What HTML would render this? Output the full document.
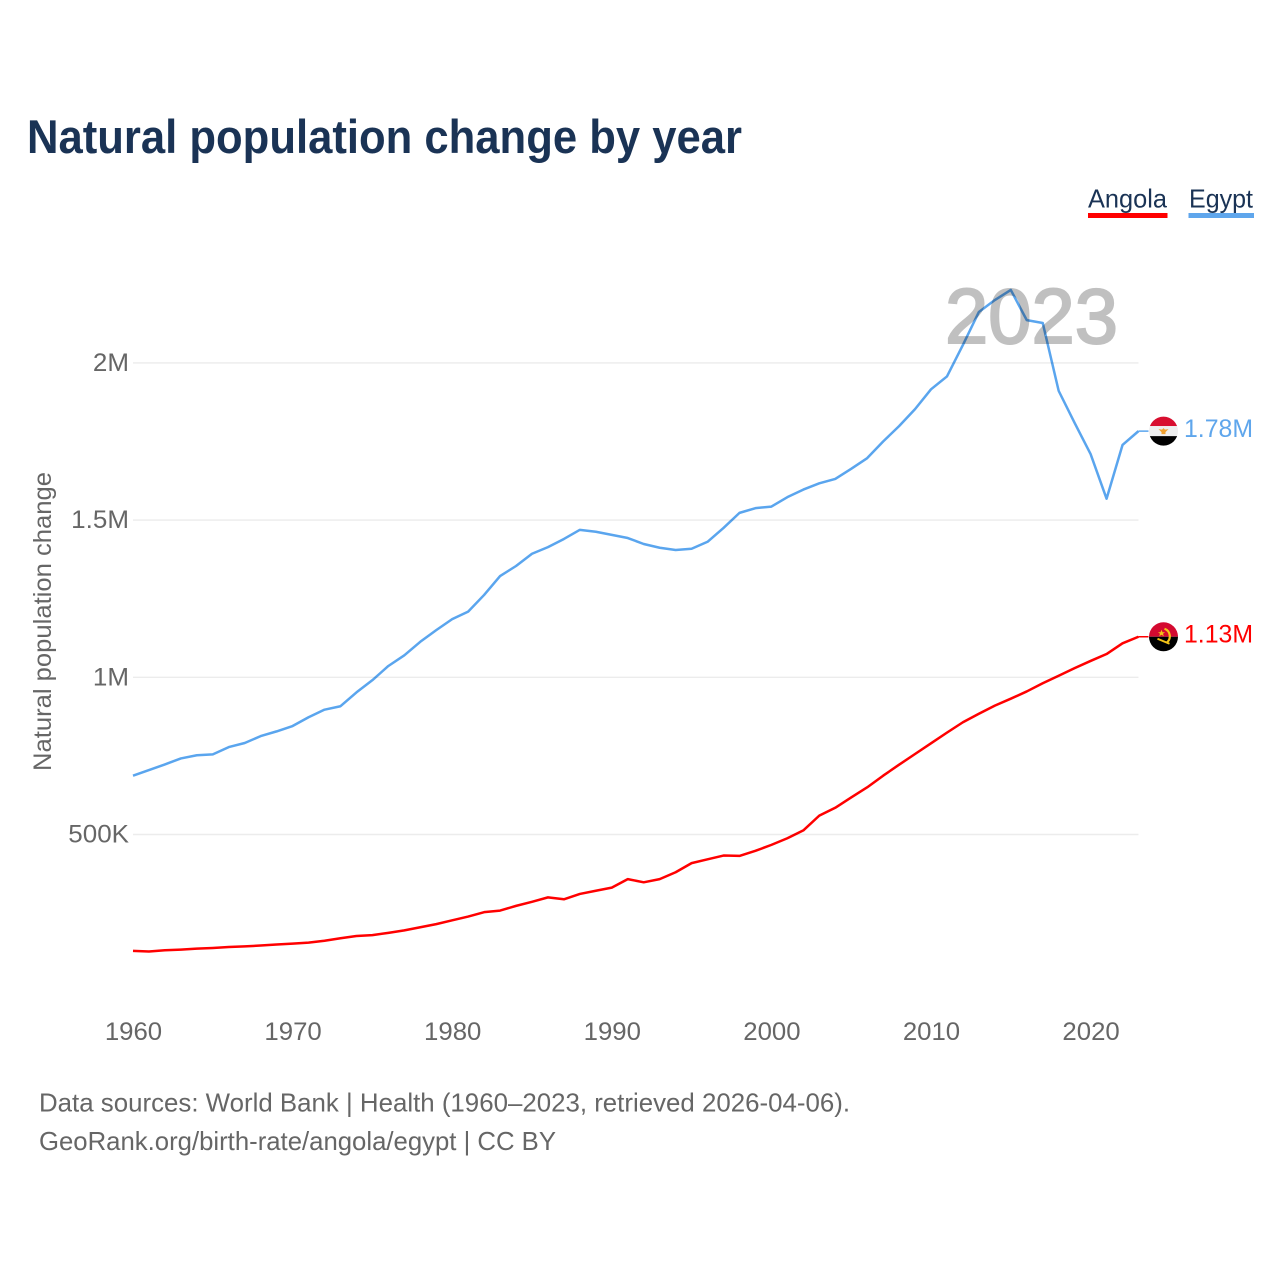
<!DOCTYPE html>
<html lang="en">
<head>
<meta charset="utf-8">
<title>Natural population change by year</title>
<style>
html,body{margin:0;padding:0;background:#fff;}
#chart{display:block;width:1280px;height:1280px;font-family:"Liberation Sans",sans-serif;}
.series{fill:none;stroke-width:2.5;stroke-linejoin:round;mix-blend-mode:multiply;}
</style>
</head>
<body>
<svg id="chart" xmlns="http://www.w3.org/2000/svg" width="1280" height="1280" viewBox="0 0 1280 1280">
  <defs>
    <clipPath id="flag-clip"><circle cx="0" cy="0" r="14.5"></circle></clipPath>
  </defs>
  <rect width="1280" height="1280" fill="#fff"></rect>
  <text x="27" y="153" font-size="47" font-weight="700" fill="#1a3355" textLength="715" lengthAdjust="spacingAndGlyphs">Natural population change by year</text>

  <g>
    <g>
      <text x="1088" y="207.5" font-size="26" fill="#1a3355" textLength="79" lengthAdjust="spacingAndGlyphs">Angola</text>
      <rect x="1088" y="213" width="79.5" height="5" fill="#ff0000"></rect>
    </g>
    <g>
      <text x="1189" y="207.5" font-size="26" fill="#1a3355" textLength="64" lengthAdjust="spacingAndGlyphs">Egypt</text>
      <rect x="1188.5" y="213" width="65.5" height="5" fill="#5fa6ec"></rect>
    </g>
  </g>

  <text x="945" y="343" font-size="78" font-weight="400" fill="#c0c0c0" stroke="#c0c0c0" stroke-width="2" textLength="173" lengthAdjust="spacingAndGlyphs">2023</text>

  <g id="grid"></g>
  <g id="y-ticks"></g>
  <g id="x-ticks"></g>
  <text transform="translate(51,771) rotate(-90)" x="0" y="0" font-size="25" fill="#666" textLength="299" lengthAdjust="spacingAndGlyphs">Natural population change</text>

  <g id="plot"></g>

  <g id="flag-egypt">
    <g clip-path="url(#flag-clip)">
      <rect x="-15" y="-15" width="30" height="10" fill="#d80e2f"></rect>
      <rect x="-15" y="-5" width="30" height="10" fill="#eeeeee"></rect>
      <rect x="-15" y="5" width="30" height="10" fill="#000"></rect>
      <polygon points="-5,-2 -1.5,-1.5 0,-3 1.5,-1.5 5,-2 2,1 2,3 -2,3 -2,1" fill="#f0a030"></polygon>
    </g>
  </g>
  <g id="flag-angola">
    <g clip-path="url(#flag-clip)">
      <rect x="-15" y="-15" width="30" height="15" fill="#d40a30"></rect>
      <rect x="-15" y="0" width="30" height="15" fill="#000"></rect>
      <path d="M1,-8 A8,8 0 0 1 3,6" fill="none" stroke="#f5c518" stroke-width="2.2"></path>
      <polygon points="-2,-7 -1,-4.5 1.5,-4.5 -0.5,-3 0.3,-0.5 -2,-2 -4.3,-0.5 -3.5,-3 -5.5,-4.5 -3,-4.5" fill="#f5c518"></polygon>
      <path d="M-6,2 L6,7" fill="none" stroke="#f5c518" stroke-width="2"></path>
    </g>
  </g>

  <text id="label-egypt" x="1184" font-size="25" fill="#5fa6ec" textLength="69" lengthAdjust="spacingAndGlyphs">1.78M</text>
  <text id="label-angola" x="1184" font-size="25" fill="#ff0000" textLength="69" lengthAdjust="spacingAndGlyphs">1.13M</text>

  <g>
    <text x="39" y="1111.5" font-size="26" fill="#666" textLength="811" lengthAdjust="spacingAndGlyphs">Data sources: World Bank | Health (1960–2023, retrieved 2026-04-06).</text>
    <text x="39" y="1150" font-size="26" fill="#666" textLength="517" lengthAdjust="spacingAndGlyphs">GeoRank.org/birth-rate/angola/egypt | CC BY</text>
  </g>
</svg>
<script>
const years = [1960,1961,1962,1963,1964,1965,1966,1967,1968,1969,1970,1971,1972,1973,1974,1975,1976,1977,1978,1979,1980,1981,1982,1983,1984,1985,1986,1987,1988,1989,1990,1991,1992,1993,1994,1995,1996,1997,1998,1999,2000,2001,2002,2003,2004,2005,2006,2007,2008,2009,2010,2011,2012,2013,2014,2015,2016,2017,2018,2019,2020,2021,2022,2023];
const egyptValues = [687,705,723,742,752,755,778,791,813,828,845,873,897,908,952,991,1036,1070,1113,1150,1185,1209,1262,1322,1354,1393,1414,1440,1469,1463,1453,1443,1424,1412,1405,1409,1431,1475,1523,1538,1543,1573,1597,1617,1631,1663,1697,1750,1799,1853,1916,1957,2057,2162,2200,2232,2136,2127,1911,1809,1710,1568,1739,1783];
const angolaValues = [130,128,132,134,137,139,142,144,147,150,153,156,162,170,177,180,187,195,205,215,227,239,253,258,273,286,300,294,311,321,331,358,348,358,380,409,421,433,432,448,467,488,513,560,585,618,650,687,722,756,790,824,857,884,910,932,955,981,1005,1029,1052,1074,1108,1129];
const yTickValues = [500,1000,1500,2000];
const yTickLabels = ['500K','1M','1.5M','2M'];
const xTickValues = [1960,1970,1980,1990,2000,2010,2020];

const NS = 'http://www.w3.org/2000/svg';
function xScale(year){ return 133 + (year - 1960) * 15.96; }
function yScale(value){ return 834.5 - (value - 500) * 157.2 / 500; }

function make(parent, tag, attrs, text){
  const el = document.createElementNS(NS, tag);
  for (const key in attrs) el.setAttribute(key, attrs[key]);
  if (text !== undefined) el.textContent = text;
  parent.appendChild(el);
  return el;
}
function stretch(el, k){
  el.setAttribute('textLength', (el.getComputedTextLength() * k).toFixed(1));
  el.setAttribute('lengthAdjust', 'spacingAndGlyphs');
}

const grid = document.getElementById('grid');
const yAxis = document.getElementById('y-ticks');
const xAxis = document.getElementById('x-ticks');
const plot = document.getElementById('plot');
const xEnd = xScale(years[years.length - 1]);

yTickValues.forEach(function(v, i){
  const line = make(grid, 'line', {x1:133, x2:xEnd, y1:yScale(v), y2:yScale(v), stroke:'#ececec', 'stroke-width':1.4});
  
  
  const label = make(yAxis, 'text', {x:129, y:yScale(v) + 8, 'font-size':25, fill:'#666', 'text-anchor':'end'}, yTickLabels[i]);
  
  
  stretch(label, 1.04);
});

xTickValues.forEach(function(year){
  const label = make(xAxis, 'text', {x:xScale(year) + 0.5, y:1040, 'font-size':25, fill:'#666', 'text-anchor':'middle'}, String(year));
  
  
  stretch(label, 1.03);
});

function drawSeries(name, values, color){
  const d = values.map(function(v, i){
    return (i ? 'L' : 'M') + xScale(years[i]).toFixed(2) + ',' + yScale(v).toFixed(2);
  }).join(' ');
  const path = make(plot, 'path', {d:d, stroke:color, 'class':'series'});
  
  
  const lastY = yScale(values[values.length - 1]);
  const connector = make(plot, 'line', {x1:xEnd, x2:xEnd + 10, y1:lastY, y2:lastY, stroke:color, 'stroke-width':1.5});
  
  
  document.getElementById('flag-' + name).setAttribute('transform', 'translate(1163.5,' + lastY.toFixed(2) + ')');
  document.getElementById('label-' + name).setAttribute('y', (lastY + 6).toFixed(2));
}
drawSeries('angola', angolaValues, '#ff0000');
drawSeries('egypt', egyptValues, '#5aa5ee');
</script>
</body>
</html>
